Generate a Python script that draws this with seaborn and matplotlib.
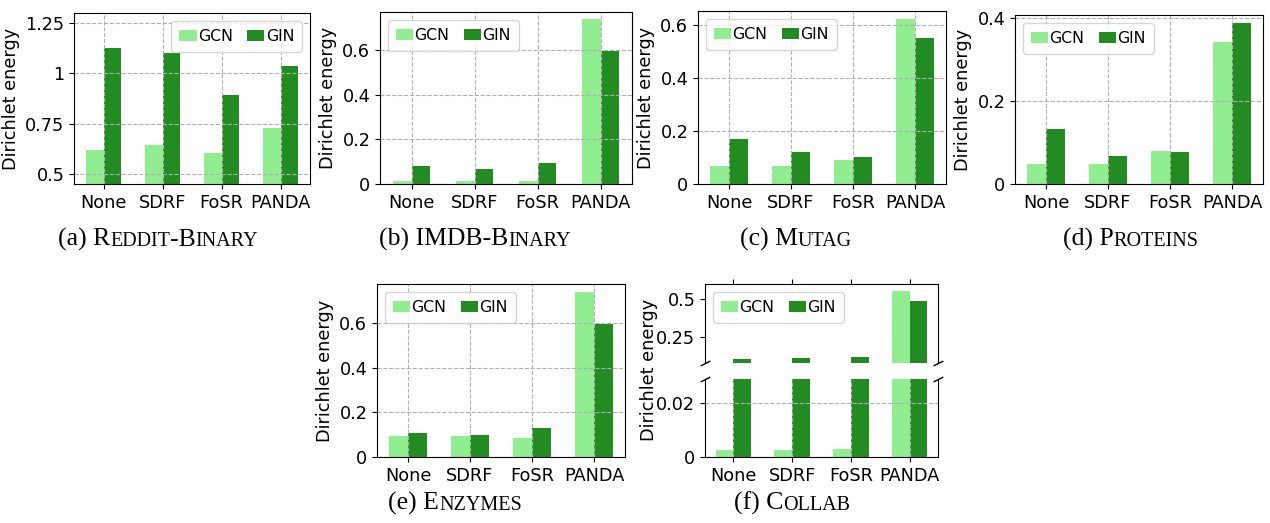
import numpy as np
import pandas as pd
import matplotlib
matplotlib.use("Agg")
import matplotlib.pyplot as plt
from matplotlib.ticker import FuncFormatter
from matplotlib.offsetbox import TextArea, HPacker, AnnotationBbox
import seaborn as sns

# ---------------- data ----------------
methods = ["None", "SDRF", "FoSR", "PANDA"]
models = ["GCN", "GIN"]
colors = ["lightgreen", "forestgreen"]

reddit_gcn = [0.618, 0.643, 0.603, 0.728]
reddit_gin = [1.124, 1.100, 0.892, 1.036]
imdb_gcn = [0.0135, 0.0135, 0.0135, 0.741]
imdb_gin = [0.082, 0.067, 0.094, 0.597]
mutag_gcn = [0.068, 0.068, 0.091, 0.624]
mutag_gin = [0.170, 0.121, 0.102, 0.552]
proteins_gcn = [0.049, 0.049, 0.080, 0.343]
proteins_gin = [0.133, 0.068, 0.077, 0.389]
enzymes_gcn = [0.094, 0.094, 0.085, 0.741]
enzymes_gin = [0.108, 0.099, 0.130, 0.598]
collab_gcn = [0.0026, 0.0026, 0.0029, 0.552]
collab_gin = [0.108, 0.112, 0.117, 0.485]

reddit_ticks = [0.5, 0.75, 1, 1.25]
imdb_ticks = [0, 0.2, 0.4, 0.6]
mutag_ticks = [0, 0.2, 0.4, 0.6]
proteins_ticks = [0, 0.2, 0.4]
enzymes_ticks = [0, 0.2, 0.4, 0.6]
collab_upper_ticks = [0.25, 0.5]
collab_lower_ticks = [0, 0.02]

ylabel = "Dirichlet energy"

# ---------------- layout ----------------
W, H = 1270, 523
fig = plt.figure(figsize=(W / 100, H / 100), dpi=100)

TICK_FS = 12.7
LEG_FS = 11.3
GRID = dict(linestyle="--", color="#b0b0b0", linewidth=0.8)
fmt = FuncFormatter(lambda v, p: f"{v:g}")


def add_ax(x0, y0, x1, y1):
    return fig.add_axes([x0 / W, 1 - y1 / H, (x1 - x0) / W, (y1 - y0) / H])


def frame(gcn, gin):
    return pd.DataFrame({
        "method": methods * 2,
        "model": [models[0]] * len(methods) + [models[1]] * len(methods),
        "value": list(gcn) + list(gin),
    })


def bars(ax, gcn, gin, legend=True):
    sns.barplot(data=frame(gcn, gin), x="method", y="value", hue="model",
                order=methods, hue_order=models, palette=colors, width=0.6,
                saturation=1, errorbar=None, legend=legend, ax=ax)
    ax.set_xlabel("")
    ax.set_ylabel("")
    ax.tick_params(labelsize=TICK_FS)
    ax.yaxis.set_major_formatter(fmt)


def style_legend(ax, loc):
    sns.move_legend(ax, loc, ncol=2, title=None, fontsize=LEG_FS,
                    handlelength=1.1, handletextpad=0.1, columnspacing=0.9,
                    borderpad=0.5, frameon=True)


def panel(box, gcn, gin, ticks, ylim, loc):
    ax = add_ax(*box)
    bars(ax, gcn, gin)
    ax.set_ylim(*ylim)
    ax.set_yticks(ticks)
    ax.grid(True, **GRID)
    ax.set_ylabel(ylabel, fontsize=TICK_FS)
    style_legend(ax, loc)
    return ax


panel((74, 13, 310, 184), reddit_gcn, reddit_gin, reddit_ticks, (0.45, 1.30), "upper right")
panel((380, 12, 632, 184), imdb_gcn, imdb_gin, imdb_ticks, (0, 0.772), "upper left")
panel((698, 11, 946, 184), mutag_gcn, mutag_gin, mutag_ticks, (0, 0.654), "upper left")
panel((1015, 15, 1263, 184), proteins_gcn, proteins_gin, proteins_ticks, (0, 0.408), "upper left")
panel((377, 284, 625, 457), enzymes_gcn, enzymes_gin, enzymes_ticks, (0, 0.776), "upper left")

# ---- broken axis (f) ----
ax_up = add_ax(705, 284, 938, 363)
ax_lo = add_ax(705, 379, 938, 457)
bars(ax_up, collab_gcn, collab_gin, legend=True)
bars(ax_lo, collab_gcn, collab_gin, legend=False)
ax_up.set_ylim(0.08, 0.595)
ax_up.set_yticks(collab_upper_ticks)
ax_lo.set_ylim(0, 0.029)
ax_lo.set_yticks(collab_lower_ticks)
ax_up.spines["bottom"].set_visible(False)
ax_lo.spines["top"].set_visible(False)
ax_up.xaxis.tick_top()
ax_up.tick_params(labeltop=False)
ax_lo.xaxis.tick_bottom()
ax_lo.grid(True, **GRID)
style_legend(ax_up, "upper left")
ax_lo.set_ylabel(ylabel, fontsize=TICK_FS)
ax_lo.yaxis.set_label_coords(-0.20, 1.11)
kw = dict(marker=[(-1, -0.5), (1, 0.5)], markersize=7, linestyle="none",
          color="k", mec="k", mew=1, clip_on=False)
ax_up.plot([0, 1], [0, 0], transform=ax_up.transAxes, **kw)
ax_lo.plot([0, 1], [1, 1], transform=ax_lo.transAxes, **kw)

# ---------------- captions (small caps) ----------------
BIG, SMALL = 18.5, 14.5


def caption(cx, bottom, parts):
    children = [TextArea(t, textprops=dict(fontsize=(BIG if big else SMALL),
                                           family="Liberation Serif", color="black"))
                for t, big in parts]
    box = HPacker(children=children, align="baseline", pad=0, sep=0)
    ab = AnnotationBbox(box, (cx / W, 1 - bottom / H), xycoords="figure fraction",
                        box_alignment=(0.5, 0), frameon=False, pad=0)
    fig.add_artist(ab)


caption(158, 251, [("(a) R", True), ("EDDIT", False), ("-B", True), ("INARY", False)])
caption(475, 251, [("(b) IMDB-B", True), ("INARY", False)])
caption(796, 251, [("(c) M", True), ("UTAG", False)])
caption(1131, 251, [("(d) P", True), ("ROTEINS", False)])
caption(455, 515, [("(e) E", True), ("NZYMES", False)])
caption(792, 515, [("(f) C", True), ("OLLAB", False)])

fig.savefig("out.png", dpi=100)
